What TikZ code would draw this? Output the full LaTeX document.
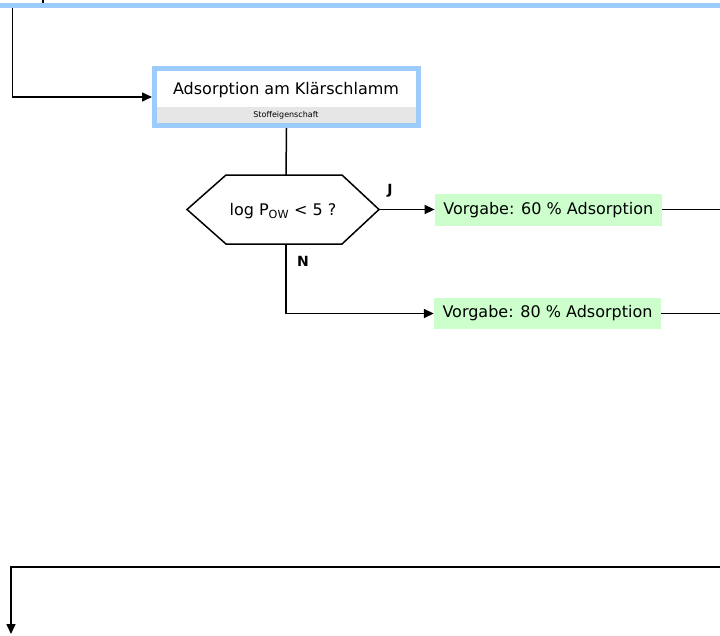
\documentclass[tikz,border=0pt]{standalone}
\usepackage{fontspec}
\setmainfont{DejaVu Sans}
\usetikzlibrary{arrows.meta}
\definecolor{barblue}{RGB}{156,204,252}
\definecolor{stripgray}{RGB}{230,230,230}
\definecolor{notegreen}{RGB}{204,255,204}
\tikzset{
  flow/.style={line width=1.5pt, -{Triangle[length=10pt,width=9pt]}},
  plain/.style={line width=1.5pt},
  procbox/.style={draw=barblue, line width=5pt, fill=white, minimum width=264pt, minimum height=57pt, inner sep=0pt},
  notebox/.style={fill=notegreen, minimum width=227pt, minimum height=31.5pt, inner sep=0pt, font=\fontsize{16}{18}\selectfont},
  yn/.style={font=\fontsize{14}{16}\selectfont\bfseries}
}
\begin{document}
\begin{tikzpicture}[x=1pt,y=-1pt]
\useasboundingbox (0,0) rectangle (720,635);
% top band with its stub
\fill[barblue] (0,3) rectangle (720,8.3);
\draw[line width=2pt] (43,0) -- (43,3);
\coordinate (entry) at (12.3,8.3);

% process box
\node[procbox] (ads) at (286.5,97) {};
\fill[stripgray] (157,107) rectangle (416,123);
\node[font=\fontsize{16}{18}\selectfont] (adstitle) at (286,90) {Adsorption am Klärschlamm};
\node[font=\fontsize{8}{9}\selectfont] (adsprop) at (286,115) {Stoffeigenschaft};

% decision hexagon
\coordinate (hl) at (187,209.5);
\coordinate (htl) at (226,175);
\coordinate (htr) at (342,175);
\coordinate (hr) at (379,209.5);
\coordinate (hbr) at (342,244);
\coordinate (hbl) at (226,244);
\draw[plain, fill=white] (hl) -- (htl) -- (htr) -- (hr) -- (hbr) -- (hbl) -- cycle;
\node[font=\fontsize{16}{18}\selectfont] (dec) at (283,211) {log P\textsubscript{OW} < 5 ?};
\coordinate (dectop) at (286,175);
\coordinate (decbot) at (286,244);

% outcomes
\node[notebox] (yes) at (548.3,210) {Vorgabe: 60 \% Adsorption};
\node[notebox] (no) at (547.5,313.5) {Vorgabe: 80 \% Adsorption};
\coordinate (yesout) at (720,209.5);
\coordinate (noout) at (720,313.5);

% connectors
\draw[flow] (entry) |- (ads.west);
\draw[plain] (ads.south) -- (dectop);
\draw[flow] (hr) -- (yes.west |- hr);
\draw[flow] (decbot) |- (no.west);
\draw[plain] (yes.east |- yesout) -- (yesout);
\draw[plain] (no.east) -- (noout);
\node[yn] (jlabel) at (390,191) {J};
\node[yn] (nlabel) at (303,261) {N};

% return line
\coordinate (retin) at (720,567);
\coordinate (retout) at (11,634);
\draw[flow] (retin) -| (retout);
\end{tikzpicture}
\end{document}
